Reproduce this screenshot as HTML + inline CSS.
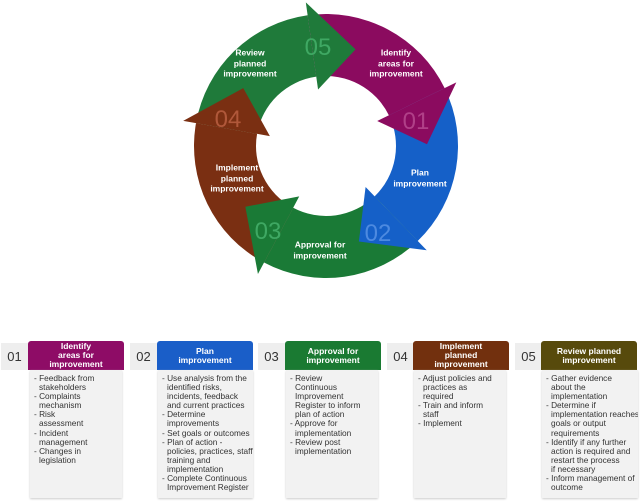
<!DOCTYPE html>
<html><head><meta charset="utf-8"><style>
html,body{margin:0;padding:0;background:#fff;width:641px;height:504px;overflow:hidden;font-family:"Liberation Sans",Arial,sans-serif}
.num{position:absolute;top:343px;width:27px;height:27px;background:#eeeeee;color:#333;font-size:13px;line-height:27px;text-align:center}
.hd{position:absolute;top:341px;width:96px;height:29px;border-radius:3px 3px 0 0;color:#fff;font-weight:bold;font-size:8.5px;line-height:9px;text-align:center;display:flex;align-items:center;justify-content:center}
.ct{position:absolute;top:370px;width:92px;height:128px;background:#f2f2f2;box-shadow:0 1px 2px #ccc;color:#333;font-size:8.3px;line-height:9.1px;padding:4px 0 0 4px;box-sizing:border-box;white-space:nowrap;overflow:hidden}
.ct span{display:block;padding-left:5px}
.ct b{font-weight:normal;display:block}
.lb{position:absolute;color:#fff;font-weight:bold;font-size:8.5px;line-height:10.5px;text-align:center;transform:translate(-50%,-50%);white-space:nowrap}
.nb{position:absolute;font-size:24px;transform:translate(-50%,-50%)}
</style></head><body>
<svg id="ring" width="641" height="300" style="position:absolute;left:0;top:0"></svg>
<script>
var cx=326,cy=146,ri=70,ro=132,rm=101;
function P(r,a){a=a*Math.PI/180;return [cx+r*Math.sin(a),cy-r*Math.cos(a)];}
var cols=['#1f7a3a','#8b0b5f','#1560c8','#1a7a36','#7a2f12'];
var bases=[-8,64,136,208,280];
var bodies='',heads='';
for(var i=0;i<5;i++){
 var c=cols[i];
 var a1=bases[i],a0=bases[(i+4)%5];
 if(a0>a1)a0-=360;
 var p1=P(ro,a0),p2=P(ro,a1),p3=P(ri,a1),p4=P(ri,a0);
 bodies+='<path fill="'+c+'" d="M'+p1+' A'+ro+','+ro+' 0 0 1 '+p2+' L'+p3+' A'+ri+','+ri+' 0 0 0 '+p4+'Z"/>';
 var w1=P(ro+13,a1),w2=P(ri-13,a1),tp=P(rm,a1+25);
 heads+='<path fill="'+c+'" d="M'+w1+' L'+tp+' L'+w2+'Z"/>';
}
document.getElementById('ring').innerHTML=bodies+heads;
</script>
<div class="nb" style="left:318px;top:48px;color:#3fa863">05</div>
<div class="nb" style="left:416px;top:122px;color:#b04088">01</div>
<div class="nb" style="left:378px;top:234px;color:#4d8ae0">02</div>
<div class="nb" style="left:268px;top:232px;color:#3fa863">03</div>
<div class="nb" style="left:228px;top:120px;color:#b0583a">04</div>
<div class="lb" style="left:250px;top:63px">Review<br>planned<br>improvement</div>
<div class="lb" style="left:396px;top:63px">Identify<br>areas for<br>improvement</div>
<div class="lb" style="left:420px;top:178px">Plan<br>improvement</div>
<div class="lb" style="left:320px;top:250px">Approval for<br>improvement</div>
<div class="lb" style="left:237px;top:178px">Implement<br>planned<br>improvement</div>

<div class="num" style="left:1px">01</div>
<div class="hd" style="left:28px;background:#8e0c66">Identify<br>areas for<br>improvement</div>
<div class="ct" style="left:30px"><b>- Feedback from</b><span>stakeholders</span><b>- Complaints</b><span>mechanism</span><b>- Risk</b><span>assessment</span><b>- Incident</b><span>management</span><b>- Changes in</b><span>legislation</span></div>

<div class="num" style="left:130px">02</div>
<div class="hd" style="left:157px;background:#1a5ec8">Plan<br>improvement</div>
<div class="ct" style="left:158px;width:95px"><b>- Use analysis from the</b><span>identified risks,</span><span>incidents, feedback</span><span>and current practices</span><b>- Determine</b><span>improvements</span><b>- Set goals or outcomes</b><b>- Plan of action -</b><span>policies, practices, staff</span><span>training and</span><span>implementation</span><b>- Complete Continuous</b><span>Improvement Register</span></div>

<div class="num" style="left:258px">03</div>
<div class="hd" style="left:285px;background:#1a7a32">Approval for<br>improvement</div>
<div class="ct" style="left:286px"><b>- Review</b><span>Continuous</span><span>Improvement</span><span>Register to inform</span><span>plan of action</span><b>- Approve for</b><span>implementation</span><b>- Review post</b><span>implementation</span></div>

<div class="num" style="left:387px">04</div>
<div class="hd" style="left:413px;background:#72300e">Implement<br>planned<br>improvement</div>
<div class="ct" style="left:414px"><b>- Adjust policies and</b><span>practices as</span><span>required</span><b>- Train and inform</b><span>staff</span><b>- Implement</b></div>

<div class="num" style="left:515px">05</div>
<div class="hd" style="left:541px;background:#574a0c">Review planned<br>improvement</div>
<div class="ct" style="left:542px;width:96px"><b>- Gather evidence</b><span>about the</span><span>implementation</span><b>- Determine if</b><span>implementation reaches</span><span>goals or output</span><span>requirements</span><b>- Identify if any further</b><span>action is required and</span><span>restart the process</span><span>if necessary</span><b>- Inform management of</b><span>outcome</span></div>
</body></html>
